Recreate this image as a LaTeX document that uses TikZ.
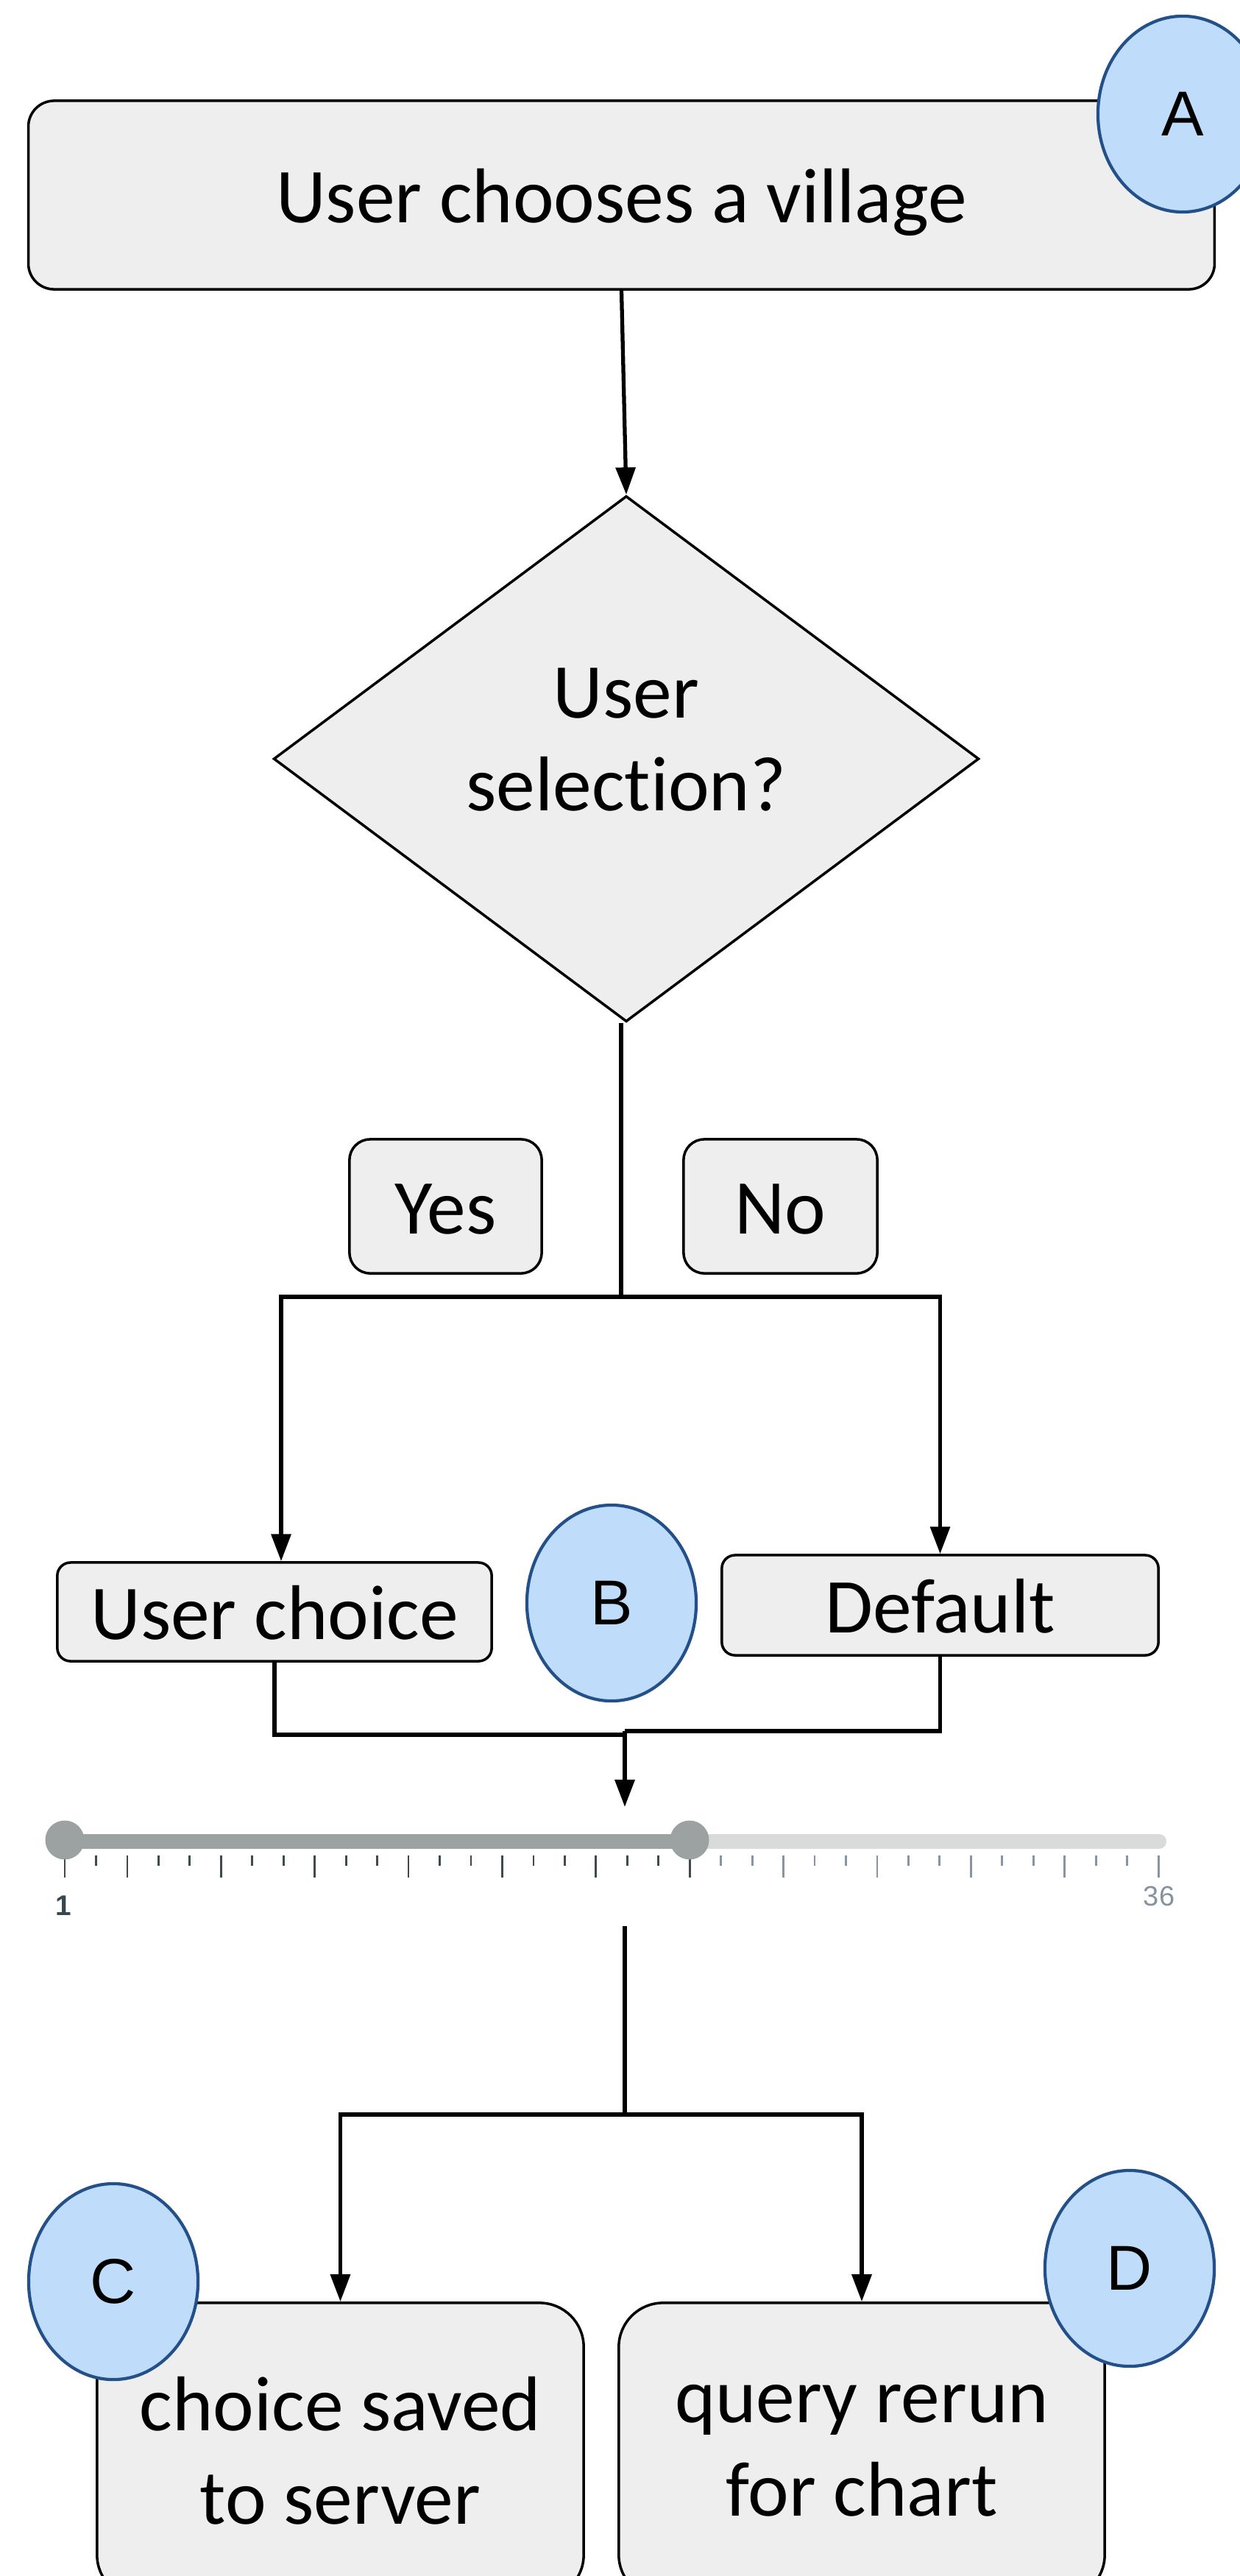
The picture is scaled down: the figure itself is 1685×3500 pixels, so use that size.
\documentclass[tikz,border=0pt]{standalone}
\usepackage{fontspec}
\setmainfont[Ligatures=NoCommon]{Carlito}
\newfontfamily\letrafont{Liberation Sans}
\usetikzlibrary{arrows.meta,shapes.geometric}

\definecolor{cajagris}{HTML}{EEEEEE}
\definecolor{circrelleno}{HTML}{BFDDFB}
\definecolor{circborde}{HTML}{24508A}
\definecolor{pistaon}{HTML}{9BA2A1}
\definecolor{pistaoff}{HTML}{D8DBDA}
\definecolor{marcaon}{HTML}{3E4A4B}
\definecolor{marcaoff}{HTML}{8A94A0}
\definecolor{lbluno}{HTML}{37474F}
\definecolor{lblmax}{HTML}{8592A0}

\tikzset{
	caja/.style={draw, line width=1pt, fill=cajagris, rounded corners=#1, inner sep=0pt,
		align=center, font=\fontsize{30}{36}\selectfont},
	caja/.default=0.3cm,
	unalinea/.style={text height=21.5pt, text depth=0pt},
	marcador/.style={ellipse, draw=circborde, line width=1.2pt, fill=circrelleno,
		minimum width=2.30cm, minimum height=2.66cm, inner sep=0pt,
		font=\letrafont\fontsize{24.5}{29}\selectfont},
	linea/.style={line width=1.5pt},
	flecha/.style={linea, -{Triangle[length=10.5pt,width=7.5pt]}},
}

\begin{document}
\begin{tikzpicture}[x=0.01cm,y=-0.01cm]
	\useasboundingbox (0,0) rectangle (1685,3500);
	\fill[white] (0,0) rectangle (1685,3500);

% cajas
	\node[caja=0.35cm, unalinea, minimum width=16.11cm, minimum height=2.56cm] (elige) at (844.5,265) {User chooses a village};
	\node[diamond, draw, line width=1pt, fill=cajagris, minimum width=9.58cm, minimum height=7.14cm, inner sep=0pt,
		label={[font=\fontsize{30}{36}\selectfont, align=center, yshift=0.26cm]center:User\\selection?}] (sel) at (851,1031) {};
	\node[caja=0.28cm, unalinea, minimum width=2.61cm, minimum height=1.82cm] (si) at (605.5,1639) {Yes};
	\node[caja=0.28cm, unalinea, minimum width=2.63cm, minimum height=1.82cm] (no) at (1060.5,1639) {No};
	\node[caja=0.18cm, unalinea, minimum width=5.90cm, minimum height=1.34cm] (usr) at (373,2190) {User choice};
	\node[caja=0.18cm, unalinea, minimum width=5.93cm, minimum height=1.36cm] (df) at (1277.5,2181) {Default};
	\node[caja=0.6cm, minimum width=6.61cm, minimum height=4.02cm] (guarda) at (462.5,3330) {choice saved\\to server};
	\node[caja=0.6cm, minimum width=6.60cm, minimum height=4.02cm] (consulta) at (1171,3330) {query rerun\\for chart};

% puntos de paso
	\coordinate (rama) at (844,1762);
	\coordinate (unionI) at (849,2357);
	\coordinate (union) at (849,2352);
	\coordinate (entrada) at (849,2455);
	\coordinate (salida) at (849,2617);
	\coordinate (reparto) at (849,2873);

% conectores
	\draw[flecha] (elige.south) -- (sel.north);
	\draw[linea] (sel.south -| rama) -- (rama);
	\draw[flecha] (rama) -| ([xshift=0.09cm]usr.north);
	\draw[flecha] (rama) -| (df.north);
	\draw[linea] (usr.south) |- (unionI) -- (union);
	\draw[linea] (df.south) |- (union);
	\draw[flecha] (union) -- (entrada);
	\draw[linea] (salida) -- (reparto);
	\draw[flecha] (reparto) -| (guarda.north);
	\draw[flecha] (reparto) -| (consulta.north);

% deslizador
	\draw[line width=5.7pt, line cap=round, pistaoff] (88,2502) -- (1575,2502);
	\draw[line width=5.7pt, pistaon] (88,2502) -- (937,2502);
	\foreach \v in {2,4,5,7,8,10,11,13,14,16,17,19,20}
		\draw[marcaon, line width=0.8pt] ({88+(\v-1)*42.46},2521) -- ++(0,14);
	\foreach \v in {1,3,6,9,12,15,18,21}
		\draw[marcaon, line width=0.8pt] ({88+(\v-1)*42.46},2521) -- ++(0,30);
	\foreach \v in {22,23,25,26,28,29,31,32,34,35}
		\draw[marcaoff, line width=0.8pt] ({88+(\v-1)*42.46},2521) -- ++(0,14);
	\foreach \v in {24,27,30,33,36}
		\draw[marcaoff, line width=0.8pt] ({88+(\v-1)*42.46},2521) -- ++(0,30);
	\fill[pistaon] (88,2500) circle[radius=0.265cm];
	\fill[pistaon] (937,2500) circle[radius=0.265cm];
	\node[font=\letrafont\bfseries\fontsize{11}{13}\selectfont, text=lbluno, inner sep=0pt] (minimo) at (86,2589) {1};
	\node[font=\letrafont\fontsize{10.8}{13}\selectfont, text=lblmax, inner sep=0pt] (maximo) at (1575,2576) {36};

% marcadores
	\node[marcador] (mA) at (1607,155) {A};
	\node[marcador] (mB) at (831,2178) {B};
	\node[marcador] (mC) at (154,3100) {C};
	\node[marcador] (mD) at (1535,3082) {D};
\end{tikzpicture}
\end{document}
